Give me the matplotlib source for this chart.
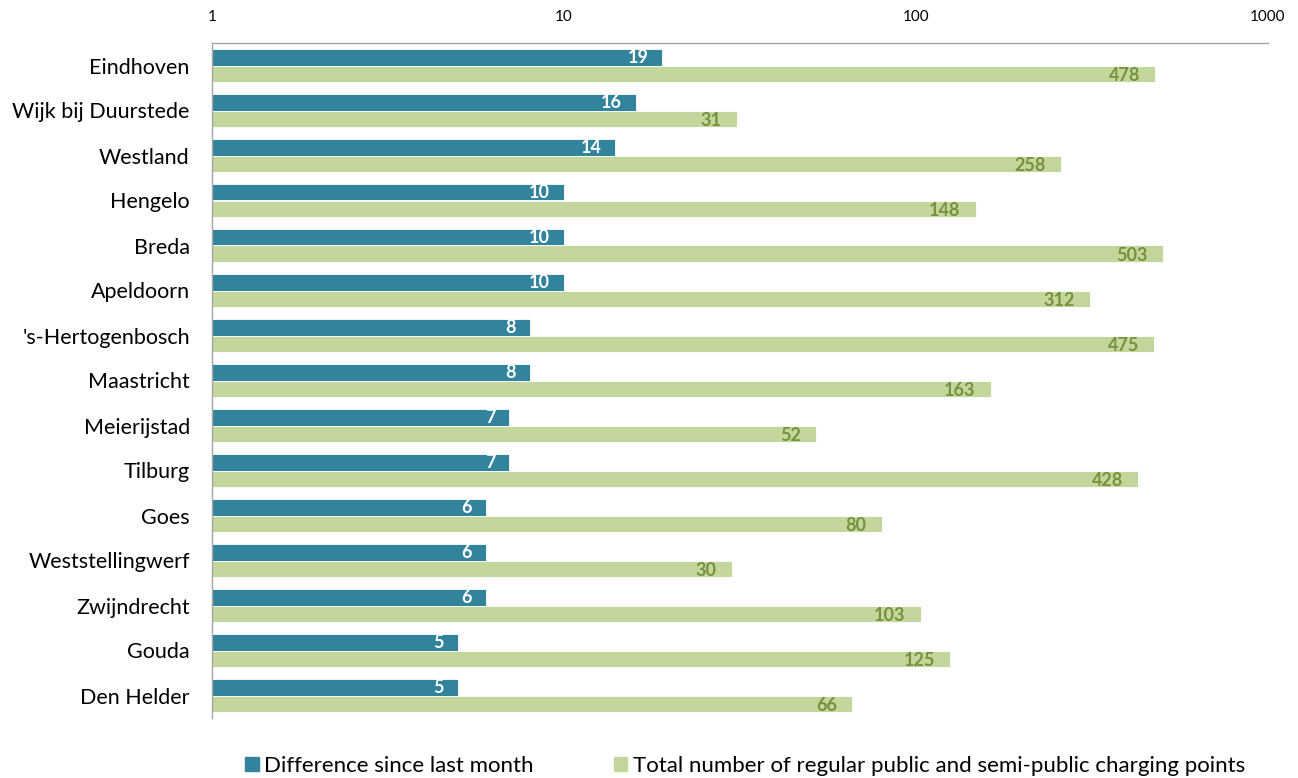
import matplotlib
matplotlib.use("Agg")
import matplotlib.pyplot as plt
import numpy as np
from matplotlib.patches import Patch

cities = ["Eindhoven", "Wijk bij Duurstede", "Westland", "Hengelo", "Breda", "Apeldoorn",
          "'s-Hertogenbosch", "Maastricht", "Meierijstad", "Tilburg", "Goes",
          "Weststellingwerf", "Zwijndrecht", "Gouda", "Den Helder"]
difference = [19, 16, 14, 10, 10, 10, 8, 8, 7, 7, 6, 6, 6, 5, 5]
total = [478, 31, 258, 148, 503, 312, 475, 163, 52, 428, 80, 30, 103, 125, 66]
tick_vals = [1, 10, 100, 1000]
tick_labels = ["1", "10", "100", "1000"]

teal = "#31849B"
green = "#C3D69B"
olive = "#76923C"
font = ["Lato", "DejaVu Sans"]
plt.rcParams['font.family'] = font

fig = plt.figure(figsize=(12.98, 7.78), dpi=100)
ax = fig.add_axes([212/1298, 1-718/778, (1268-212)/1298, (718-43)/778])

n = len(cities)
y = np.arange(n)
h = 0.36
diff_arr = np.array(difference, dtype=float)
tot_arr = np.array(total, dtype=float)
ax.barh(y - h/2, diff_arr - 1, height=h, left=1, color=teal, edgecolor="white", linewidth=0.6)
ax.barh(y + h/2, tot_arr - 1, height=h, left=1, color=green, edgecolor="white", linewidth=0.6)

ax.set_xscale("log")
ax.set_xlim(1, 1000)
ax.set_ylim(n - 0.5, -0.5)
ax.set_yticks(y)
ax.set_yticklabels(cities, fontsize=15.5)
ax.set_xticks(tick_vals)
ax.set_xticklabels(tick_labels, fontsize=11)
ax.xaxis.set_minor_locator(matplotlib.ticker.NullLocator())
ax.xaxis.tick_top()
ax.tick_params(axis="x", length=0, pad=14)
ax.tick_params(axis="y", length=0, pad=16)
for s in ["right", "bottom"]:
    ax.spines[s].set_visible(False)
for s in ["left", "top"]:
    ax.spines[s].set_color("#A6A6A6")
    ax.spines[s].set_linewidth(1)

for i in range(n):
    ax.annotate(str(difference[i]), (difference[i], y[i] - h/2), xytext=(-10, 0),
                textcoords="offset points", ha="right", va="center",
                color="white", fontsize=13, fontweight="bold")
    ax.annotate(str(total[i]), (total[i], y[i] + h/2), xytext=(-11, -1.5),
                textcoords="offset points", ha="right", va="center",
                color=olive, fontsize=13, fontweight="bold")

handles = [Patch(color=teal, label="Difference since last month"),
           Patch(color=green, label="Total number of regular public and semi-public charging points")]
fig.legend(handles=handles, loc="center", bbox_to_anchor=(745/1298, 1-766/778), ncol=2,
           frameon=False, fontsize=16, handlelength=0.6, handleheight=0.6,
           handletextpad=0.25, columnspacing=3.6)

fig.savefig("out.png", dpi=100)
